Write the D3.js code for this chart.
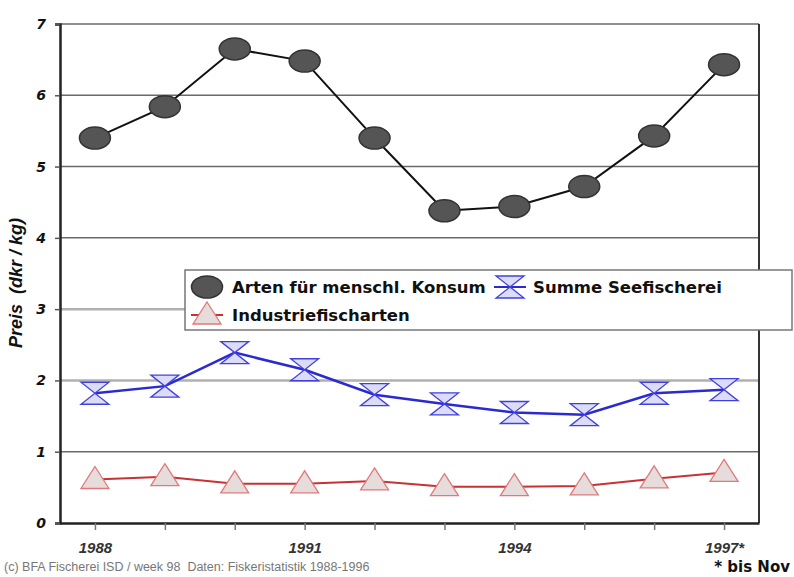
<!DOCTYPE html>
<html>
<head>
<meta charset="utf-8">
<script src="https://cdn.jsdelivr.net/npm/d3@7"></script>
<style>
  body { margin: 0; background: #fff; }
  svg { font-family: "Liberation Sans", Arial, sans-serif; }
</style>
</head>
<body>
<div id="chart"></div>
<script>
// data
var years = ["1988", "1989", "1990", "1991", "1992", "1993", "1994", "1995", "1996", "1997"];
var tickLabels = {"1988": "1988", "1991": "1991", "1994": "1994", "1997": "1997*"};
var konsum = [5.40, 5.84, 6.65, 6.48, 5.40, 4.38, 4.44, 4.72, 5.43, 6.43];
var seefischerei = [1.82, 1.92, 2.39, 2.15, 1.80, 1.67, 1.55, 1.52, 1.82, 1.87];
var industrie = [0.61, 0.65, 0.55, 0.55, 0.59, 0.51, 0.51, 0.52, 0.62, 0.71];
var yTicks = [0, 1, 2, 3, 4, 5, 6, 7];

var W = 794, H = 577;
var margin = {top: 24, right: 35, bottom: 54, left: 60};
var width = W - margin.left - margin.right;
var height = H - margin.top - margin.bottom;

var svg = d3.select("#chart")
    .append("svg")
    .attr("width", W)
    .attr("height", H);

var graph = svg.append("g")
    .attr("transform", "translate(" + margin.left + "," + margin.top + ")");

var x = d3.scalePoint()
    .domain(years)
    .range([0, width])
    .padding(0.5);

var y = d3.scaleLinear()
    .domain([0, 7])
    .range([height, 0]);

// grid lines
graph.append("g")
    .selectAll("line")
    .data(yTicks.filter(function (d) { return d > 0; }))
    .enter()
    .append("line")
    .attr("x1", 0)
    .attr("x2", width)
    .attr("y1", function (d) { return y(d); })
    .attr("y2", function (d) { return y(d); })
    .attr("stroke", function (d) { return (d == 2 || d == 3) ? "#b0b0b0" : "#6a6a6a"; })
    .attr("stroke-width", function (d) { return (d == 2 || d == 3) ? 2.5 : 1.5; });

// frame
graph.append("line")
    .attr("x1", width).attr("x2", width)
    .attr("y1", 0).attr("y2", height)
    .attr("stroke", "#333").attr("stroke-width", 2);

// y axis
var yAxisGroup = graph.append("g")
    .call(d3.axisLeft(y).tickValues(yTicks).tickSize(5).tickFormat(d3.format("d")));
yAxisGroup.select(".domain").attr("stroke", "#222").attr("stroke-width", 2.5);
yAxisGroup.selectAll(".tick line").attr("stroke", "#555").attr("stroke-width", 1.5);
yAxisGroup.selectAll("text")
    .attr("x", -14)
    .attr("fill", "#111")
    .attr("font-family", "DejaVu Sans")
    .attr("font-size", "14px")
    .attr("font-weight", "bold")
    .attr("font-style", "italic");

// x axis
var xAxisGroup = graph.append("g")
    .attr("transform", "translate(0," + height + ")")
    .call(d3.axisBottom(x).tickSizeInner(7).tickSizeOuter(0)
        .tickFormat(function (d) { return tickLabels[d] || ""; }));
xAxisGroup.select(".domain").attr("stroke", "#222").attr("stroke-width", 2.5);
xAxisGroup.selectAll(".tick line").attr("stroke", "#777").attr("stroke-width", 1.5);
xAxisGroup.selectAll("text")
    .attr("y", 19)
    .attr("fill", "#333")
    .attr("font-size", "15px")
    .attr("font-weight", "bold")
    .attr("font-style", "italic");

// y title
svg.append("text")
    .attr("transform", "translate(22," + 283 + ") rotate(-90)")
    .attr("text-anchor", "middle")
    .attr("fill", "#111")
    .attr("font-size", "18px")
    .attr("font-weight", "bold")
    .attr("font-style", "italic")
    .attr("xml:space", "preserve")
    .text("Preis  (dkr / kg)");

// markers
function ellipse(g, cx, cy) {
    g.append("ellipse")
        .attr("cx", cx).attr("cy", cy)
        .attr("rx", 15.5).attr("ry", 11)
        .attr("fill", "#555")
        .attr("stroke", "#333")
        .attr("stroke-width", 1.5);
}
function hourglass(g, cx, cy) {
    var w = 14, h = 11;
    g.append("path")
        .attr("d", "M" + (cx - w) + "," + (cy - h) + "L" + (cx + w) + "," + (cy - h) +
            "L" + (cx - w) + "," + (cy + h) + "L" + (cx + w) + "," + (cy + h) + "Z")
        .attr("fill", "#dcdcf6")
        .attr("stroke", "#4040e0")
        .attr("stroke-width", 1.3)
        .attr("stroke-linejoin", "miter");
}
function triangle(g, cx, cy) {
    var w = 14, h = 11;
    g.append("path")
        .attr("d", "M" + cx + "," + (cy - h - 2) + "L" + (cx + w) + "," + (cy + h - 2) +
            "L" + (cx - w) + "," + (cy + h - 2) + "Z")
        .attr("fill", "#e6dcdc")
        .attr("stroke", "#e07a7a")
        .attr("stroke-width", 1.3);
}

var series = [
    {name: "Industriefischarten", values: industrie, color: "#c83232", lw: 2, marker: triangle},
    {name: "Summe Seefischerei", values: seefischerei, color: "#2a2ad0", lw: 2.5, marker: hourglass},
    {name: "Arten für menschl. Konsum", values: konsum, color: "#111", lw: 2, marker: ellipse}
];

var line = d3.line()
    .x(function (d, i) { return x(years[i]); })
    .y(function (d) { return y(d); });

series.forEach(function (s) {
    graph.append("path")
        .datum(s.values)
        .attr("fill", "none")
        .attr("stroke", s.color)
        .attr("stroke-width", s.lw)
        .attr("d", line);
    var mg = graph.append("g");
    s.values.forEach(function (v, i) {
        s.marker(mg, x(years[i]), y(v));
    });
});

// legend
var legend = svg.append("g");
legend.append("rect")
    .attr("x", 185).attr("y", 270)
    .attr("width", 607).attr("height", 60)
    .attr("fill", "#fff")
    .attr("stroke", "#777")
    .attr("stroke-width", 1.5);

var legendItems = [
    {label: "Arten für menschl. Konsum", mx: 207, tx: 232, ty: 287, marker: ellipse, color: "#111"},
    {label: "Summe Seefischerei", mx: 510, tx: 533, ty: 287, marker: hourglass, color: "#2a2ad0"},
    {label: "Industriefischarten", mx: 207, tx: 232, ty: 315, marker: triangle, color: "#c83232"}
];
legendItems.forEach(function (d) {
    legend.append("line")
        .attr("x1", d.mx - 16).attr("x2", d.mx + 16)
        .attr("y1", d.ty).attr("y2", d.ty)
        .attr("stroke", d.color).attr("stroke-width", 2);
    d.marker(legend, d.mx, d.ty);
    legend.append("text")
        .attr("x", d.tx).attr("y", d.ty)
        .attr("dy", "0.35em")
        .attr("fill", "#111")
        .attr("font-family", "DejaVu Sans")
        .attr("font-size", "16.5px")
        .attr("font-weight", "bold")
        .text(d.label);
});

// footer
svg.append("text")
    .attr("x", 4).attr("y", 571)
    .attr("fill", "#777")
    .attr("font-size", "12.5px")
    .attr("xml:space", "preserve")
    .text("(c) BFA Fischerei ISD / week 98  Daten: Fiskeristatistik 1988-1996");

svg.append("text")
    .attr("x", 790).attr("y", 572)
    .attr("text-anchor", "end")
    .attr("fill", "#111")
    .attr("font-family", "DejaVu Sans")
    .attr("font-size", "15px")
    .attr("font-weight", "bold")
    .text("* bis Nov");
</script>
</body>
</html>
